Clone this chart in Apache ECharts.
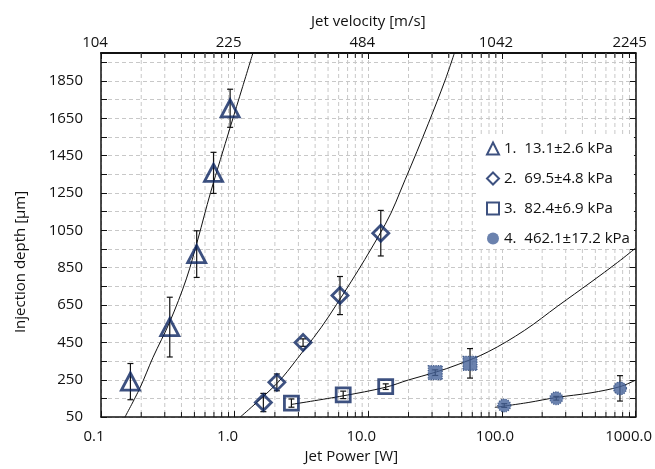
<!DOCTYPE html>
<html>
<head>
<meta charset="utf-8">
<script src="https://cdn.jsdelivr.net/npm/echarts@6/dist/echarts.min.js"></script>
<style>
  html, body { margin: 0; padding: 0; background: #fff; }
  #chart { width: 655px; height: 469px; }
</style>
</head>
<body>
<div id="chart"></div>
<script>
// axes
const velocityLabels = ['104', '225', '484', '1042', '2245'];
const seriesNames = ['1.  13.1±2.6 kPa', '2.  69.5±4.8 kPa', '3.  82.4±6.9 kPa', '4.  462.1±17.2 kPa'];

// measured points: jet power [W], depth [µm], error [µm]
const p1 = [0.166, 0.327, 0.52, 0.695, 0.925];
const d1 = [240, 532, 923, 1358, 1704];
const e1 = [97, 160, 125, 110, 102];

const p2 = [1.64, 2.07, 3.25, 6.14, 12.4];
const d2 = [128, 236, 449, 701, 1035];
const e2 = [49, 45, 20, 102, 122];

const p3 = [2.66, 6.49, 13.5];
const d3 = [125, 169, 213];
const e3 = [22, 20, 15];

// filled squares sitting on fit 3
const p3b = [31.7, 57.7];
const d3b = [288, 338];
const e3b = [15, 79];

const p4 = [104, 255, 764];
const d4 = [112, 151, 204];
const e4 = [10, 10, 68];

// fitted curves
const fit1P = [0.151, 0.195, 0.245, 0.327, 0.435, 0.531, 0.66, 0.93, 1.148, 1.37];
const fit1D = [50, 204, 370, 560, 790, 1003, 1252, 1606, 1820, 2000];
const fit2P = [1.1, 2.07, 2.95, 5.08, 13.4, 18.9, 28.2, 37.6, 44.1];
const fit2D = [50, 230, 364, 591, 1083, 1323, 1624, 1855, 2000];
const fit3P = [2.66, 6.49, 13.5, 20, 31.7, 47, 79, 148, 262, 464, 735, 1000];
const fit3D = [118, 164, 210, 249, 290, 332, 400, 515, 645, 773, 879, 955];
const fit4P = [88.5, 157, 255, 464, 764, 1000];
const fit4D = [102, 128, 155, 180, 213, 248];

const NAVY = '#0c2660';
const FILL = '#46639a';
const FONT = 'Open Sans';
const INK = '#111';

const zip = (xs, ys) => xs.map((x, i) => [x, ys[i]]);
const bars = (xs, ys, es) => xs.map((x, i) => [x, ys[i] - es[i], ys[i] + es[i]]);

// minor log gridlines 2..9 per decade
const minorX = [];
[0.1, 1, 10, 100].forEach(dec => {
  for (let k = 2; k <= 9; k++) minorX.push([dec * k, 100]);
});

function errorBarItem(params, api) {
  const x = api.value(0);
  const lo = api.coord([x, api.value(1)]);
  const hi = api.coord([x, api.value(2)]);
  const w = 3;
  const style = { stroke: INK, lineWidth: 1.2, fill: null };
  return {
    type: 'group',
    children: [
      { type: 'line', shape: { x1: hi[0], y1: hi[1], x2: lo[0], y2: lo[1] }, style },
      { type: 'line', shape: { x1: hi[0] - w, y1: hi[1], x2: hi[0] + w, y2: hi[1] }, style },
      { type: 'line', shape: { x1: lo[0] - w, y1: lo[1], x2: lo[0] + w, y2: lo[1] }, style }
    ]
  };
}

function minorGridItem(params, api) {
  const x = api.coord([api.value(0), 100])[0];
  const cs = params.coordSys;
  const top = cs.y, bot = cs.y + cs.height;
  return {
    type: 'group',
    children: [
      { type: 'line', shape: { x1: x, y1: top, x2: x, y2: bot },
        style: { stroke: '#c8c8c8', lineWidth: 1, lineDash: [4, 3] } },
      { type: 'line', shape: { x1: x, y1: bot, x2: x, y2: bot - 5 },
        style: { stroke: INK, lineWidth: 1 } },
      { type: 'line', shape: { x1: x, y1: top, x2: x, y2: top + 5 },
        style: { stroke: INK, lineWidth: 1 } }
    ]
  };
}

const fitLine = (name, xs, ys) => ({
  name, type: 'line', data: zip(xs, ys),
  showSymbol: false, smooth: 0.35, silent: true,
  lineStyle: { color: INK, width: 1 }, z: 3
});
const errSeries = (xs, ys, es) => ({
  type: 'custom', renderItem: errorBarItem, data: bars(xs, ys, es),
  encode: { x: 0, y: [1, 2] }, silent: true, z: 4
});

const chart = echarts.init(document.getElementById('chart'));

chart.setOption({
  animation: false,
  backgroundColor: '#fff',
  textStyle: { fontFamily: FONT },
  grid: { left: 101, right: 17, top: 53, bottom: 50 },
  graphic: [{
    type: 'text', x: 21, y: 262, rotation: Math.PI / 2,
    style: {
      text: 'Injection depth [µm]', font: '15px "Open Sans"', fill: INK,
      textAlign: 'center', textVerticalAlign: 'middle'
    }
  }],
  legend: {
    orient: 'vertical',
    left: 476, top: 134,
    itemWidth: 12, itemHeight: 12, itemGap: 15,
    padding: [7, 4, 1, 10],
    backgroundColor: '#fff',
    textStyle: { fontFamily: FONT, fontSize: 15, color: INK },
    data: [
      { name: seriesNames[0], icon: 'triangle' },
      { name: seriesNames[1], icon: 'diamond' },
      { name: seriesNames[2], icon: 'rect' },
      { name: seriesNames[3], icon: 'circle', itemStyle: { color: FILL, borderWidth: 0 } }
    ]
  },
  xAxis: [
    {
      type: 'log', logBase: 10, min: 0.1, max: 1000, position: 'bottom',
      name: 'Jet Power [W]', nameLocation: 'middle', nameGap: 31,
      nameTextStyle: { fontFamily: FONT, fontSize: 15, color: INK, padding: [0, 34, 0, 0] },
      axisLine: { lineStyle: { color: INK, width: 1.5 } },
      axisTick: { inside: true, length: 6, lineStyle: { color: INK } },
      axisLabel: {
        fontFamily: FONT, fontSize: 15, color: INK, margin: 12,
        padding: [0, 14, 0, 0],
        formatter: v => Number(v).toFixed(1)
      },
      splitLine: { show: true, lineStyle: { color: '#c8c8c8', type: [4, 3] } }
    },
    {
      type: 'log', logBase: 10, min: 0.1, max: 1000, position: 'top',
      name: 'Jet velocity [m/s]', nameLocation: 'middle', nameGap: 24,
      nameTextStyle: { fontFamily: FONT, fontSize: 15, color: INK },
      axisLine: { lineStyle: { color: INK, width: 2 } },
      axisTick: { inside: true, length: 6, lineStyle: { color: INK } },
      axisLabel: {
        fontFamily: FONT, fontSize: 15, color: INK, margin: 3,
        padding: [0, 12, 0, 0],
        formatter: v => velocityLabels[Math.round(Math.log10(v)) + 1]
      },
      splitLine: { show: false }
    }
  ],
  yAxis: [
    {
      type: 'value', min: 50, max: 2000, interval: 100, position: 'left',
      axisLine: { show: true, lineStyle: { color: INK, width: 1.5 } },
      axisTick: { inside: true, length: 6, lineStyle: { color: INK } },
      axisLabel: {
        fontFamily: FONT, fontSize: 15, color: INK, margin: 18,
        formatter: v => ((v - 50) % 200 === 0 && v < 2000) ? String(v) : ''
      },
      splitLine: { show: true, lineStyle: { color: '#c8c8c8', type: [4, 3] } }
    },
    {
      type: 'value', min: 50, max: 2000, interval: 100, position: 'right',
      axisLine: { show: true, lineStyle: { color: INK, width: 1.5 } },
      axisTick: { inside: true, length: 6, lineStyle: { color: INK } },
      axisLabel: { show: false },
      splitLine: { show: false }
    }
  ],
  series: [
    {
      type: 'custom', renderItem: minorGridItem, data: minorX,
      encode: { x: 0, y: 1 }, silent: true, z: 1
    },
    fitLine('fit1', fit1P, fit1D),
    fitLine('fit2', fit2P, fit2D),
    fitLine('fit3', fit3P, fit3D),
    fitLine('fit4', fit4P, fit4D),
    errSeries(p1, d1, e1),
    errSeries(p2, d2, e2),
    errSeries(p3, d3, e3),
    errSeries(p3b, d3b, e3b),
    errSeries(p4, d4, e4),
    {
      name: seriesNames[0], type: 'scatter', data: zip(p1, d1),
      symbol: 'triangle', symbolSize: [18, 17], z: 5,
      itemStyle: { color: 'rgba(255,255,255,0)', borderColor: NAVY, borderWidth: 2.8 }
    },
    {
      name: seriesNames[1], type: 'scatter', data: zip(p2, d2),
      symbol: 'diamond', symbolSize: 16, z: 5,
      itemStyle: { color: 'rgba(255,255,255,0)', borderColor: NAVY, borderWidth: 2.8 }
    },
    {
      name: seriesNames[2], type: 'scatter', data: zip(p3, d3),
      symbol: 'rect', symbolSize: 14, z: 5,
      itemStyle: { color: 'rgba(255,255,255,0)', borderColor: NAVY, borderWidth: 2.8 }
    },
    {
      name: 'filled3', type: 'scatter', data: zip(p3b, d3b),
      symbol: 'rect', symbolSize: 14, z: 5,
      itemStyle: { color: FILL, borderColor: '#2a477c', borderWidth: 1.2, borderType: 'dotted' }
    },
    {
      name: seriesNames[3], type: 'scatter', data: zip(p4, d4),
      symbol: 'circle', symbolSize: 13, z: 5,
      itemStyle: { color: FILL, borderColor: '#2a477c', borderWidth: 1.2, borderType: 'dotted' }
    }
  ]
});
</script>
</body>
</html>
